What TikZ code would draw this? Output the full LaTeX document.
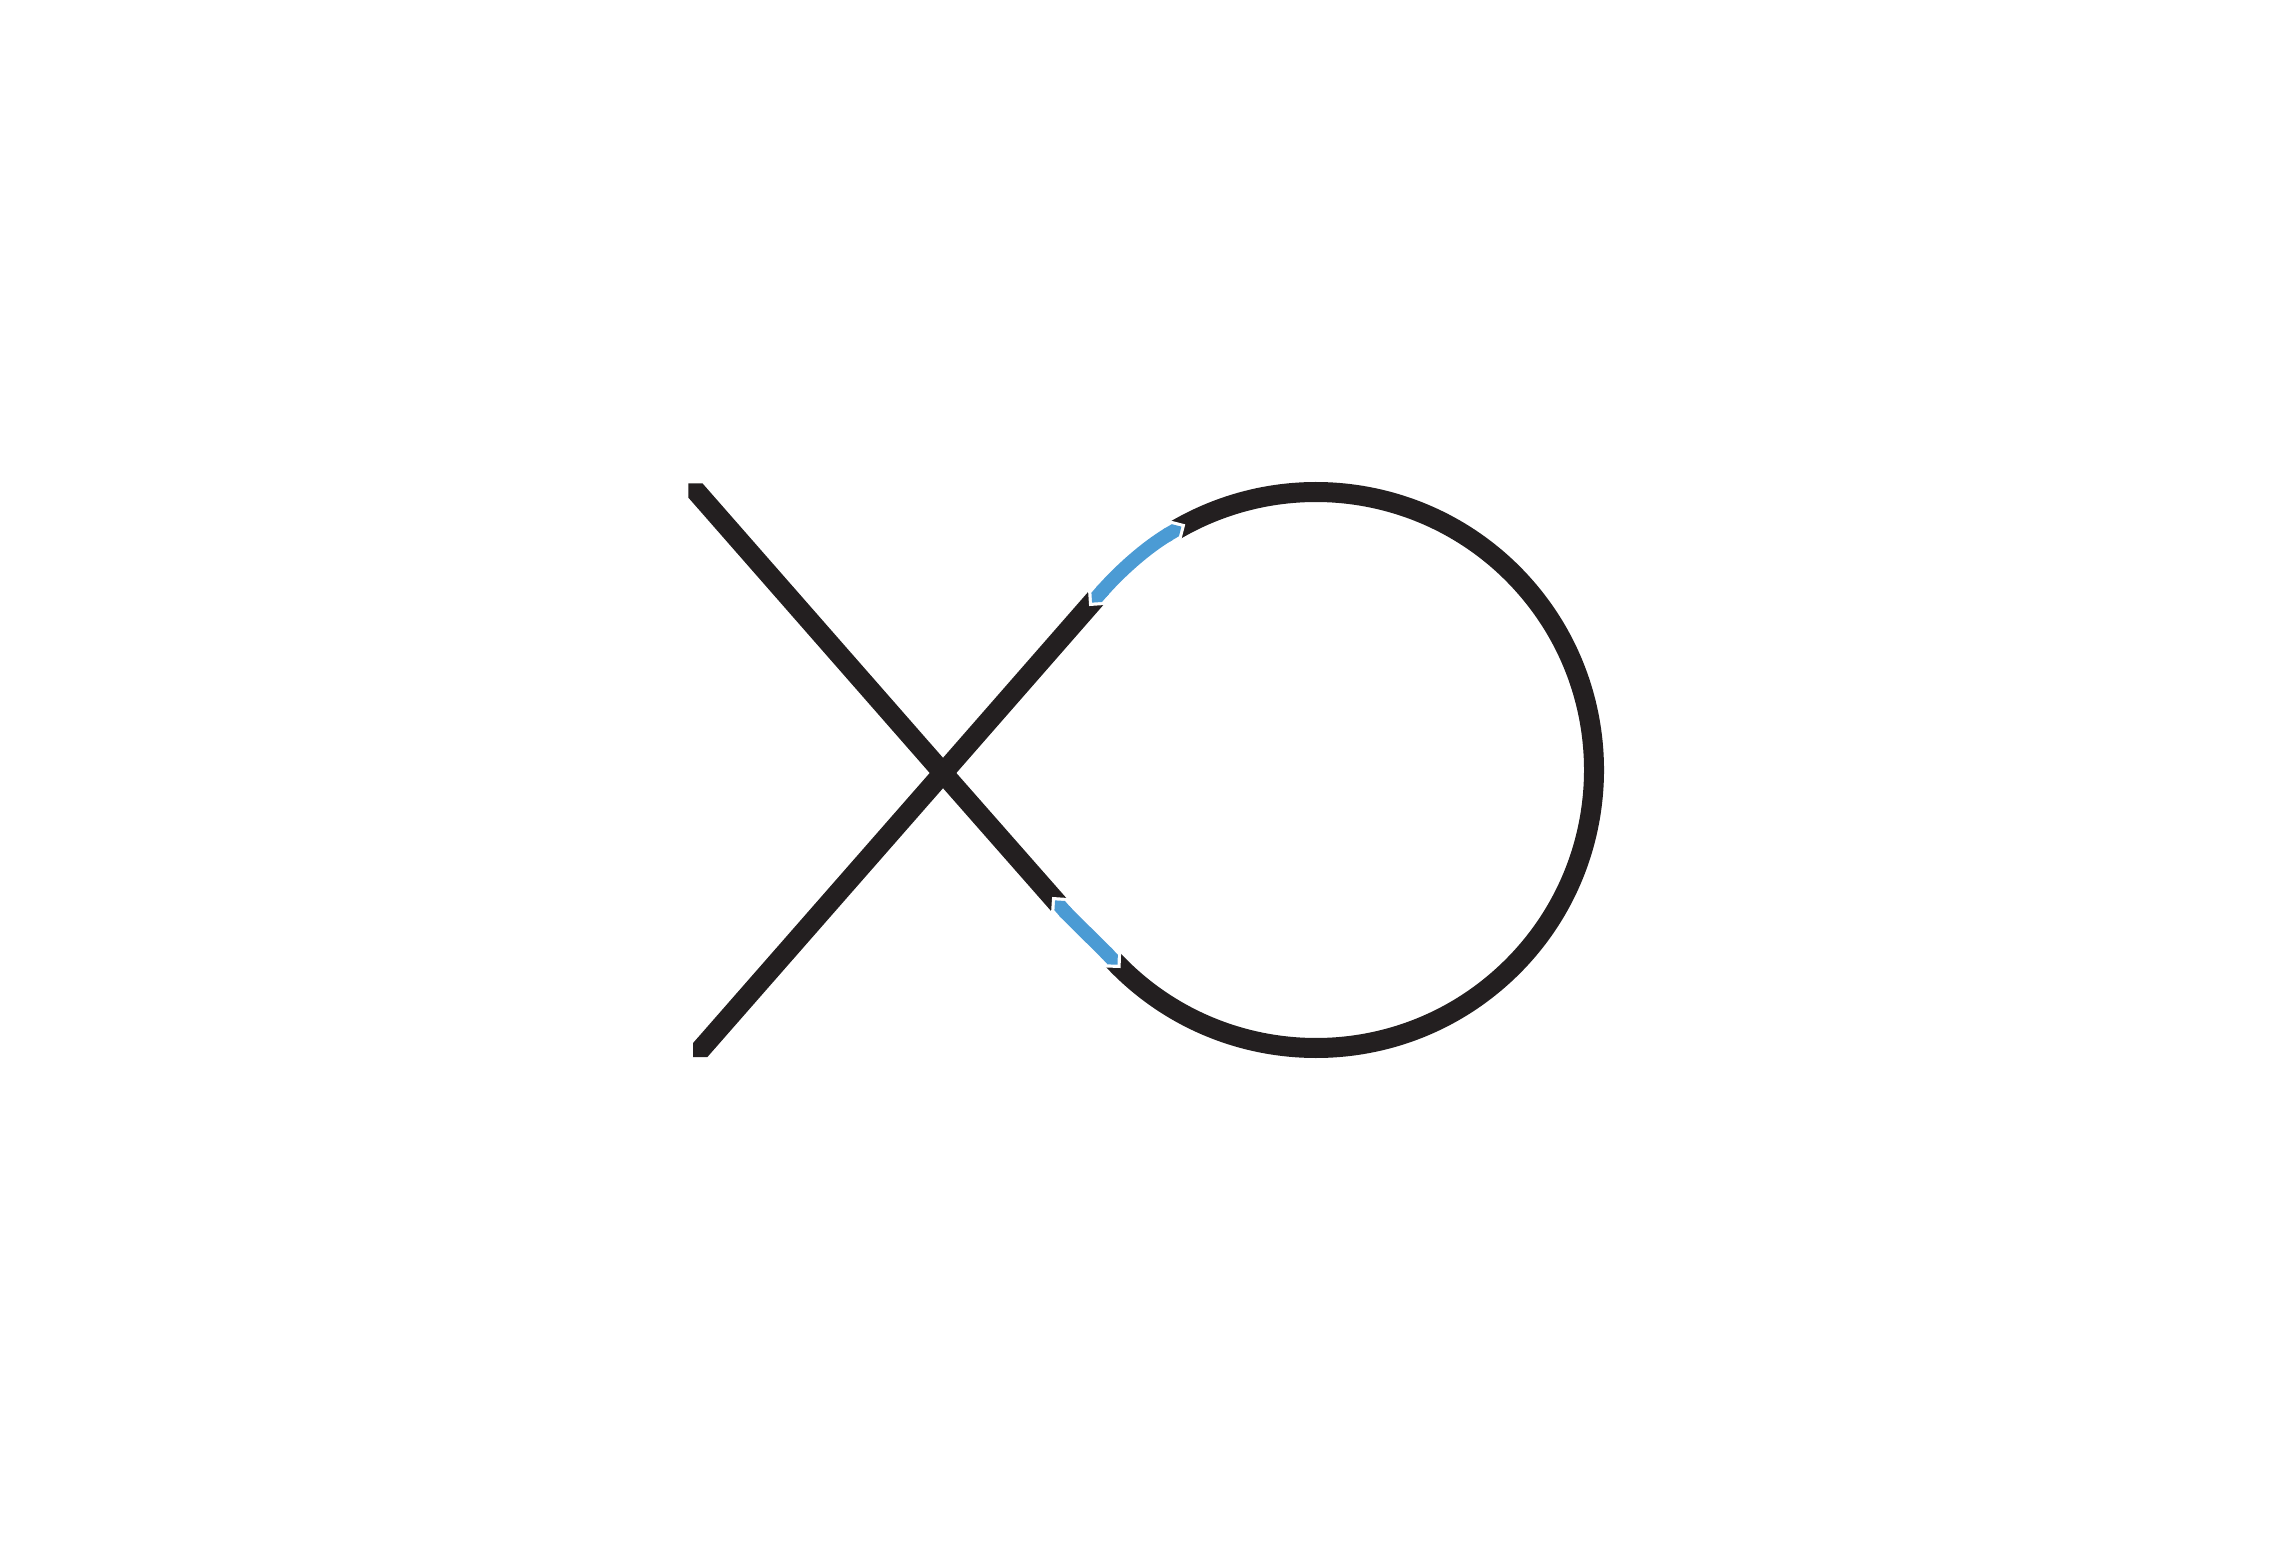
\documentclass[tikz,border=0pt]{standalone}
\usetikzlibrary{arrows.meta}
\definecolor{ink}{RGB}{35,31,32}
\definecolor{linkblue}{RGB}{75,155,212}
\tikzset{
  inkline/.style={draw=ink, line width=0.2cm, line cap=butt},
  whitegap/.style={draw=white, line width=0.23cm, {Triangle Cap[]}-{Triangle Cap[]},
    shorten <=-0.12cm, shorten >=-0.12cm},
  bluelink/.style={draw=linkblue, line width=0.14cm, {Triangle Cap[]}-{Triangle Cap[]},
    shorten <=-0.075cm, shorten >=-0.075cm}
}
\begin{document}
\begin{tikzpicture}[x=0.01cm, y=0.01cm]
\fill[white] (0,0) rectangle (2292,1542);
\useasboundingbox (0,0) rectangle (2292,1542);
\coordinate (c) at (1316,772);
\coordinate (a) at (679.2,1070);
\coordinate (b) at (684.2,473.7);
\coordinate (x) at (943,769);
\coordinate (p1) at (1060,636);
\coordinate (p2) at (1097,945);
\coordinate (q1) at ([shift={(-137.1:278)}]c);
\coordinate (q2) at ([shift={(120.5:278)}]c);
\coordinate (l1) at (1067.9,627.0);
\coordinate (l2) at (1104.2,591.5);
\coordinate (u1) at (1119.4,970.6);
\coordinate (u2) at (1145.6,994.2);

% black stroke, ends cut square
\begin{scope}
\clip (688.3,1058.7) -- (900,1058.7) -- (900,1300) -- (1700,1300) -- (1700,250)
  -- (900,250) -- (900,485) -- (693,485) -- (693,772) -- (688.3,772) -- cycle;
\draw[inkline] (a) -- (x) -- (p1) .. controls (l1) and (l2) .. (q1)
  arc[start angle=-137.1, end angle=120.5, radius=278]
  .. controls (u2) and (u1) .. (p2) -- (x) -- (b);
\end{scope}

% blue links
\draw[whitegap] (p1) .. controls (l1) and (l2) .. (q1);
\draw[bluelink] (p1) .. controls (l1) and (l2) .. (q1);
\draw[whitegap] (p2) .. controls (u1) and (u2) .. (q2);
\draw[bluelink] (p2) .. controls (u1) and (u2) .. (q2);
\end{tikzpicture}
\end{document}
